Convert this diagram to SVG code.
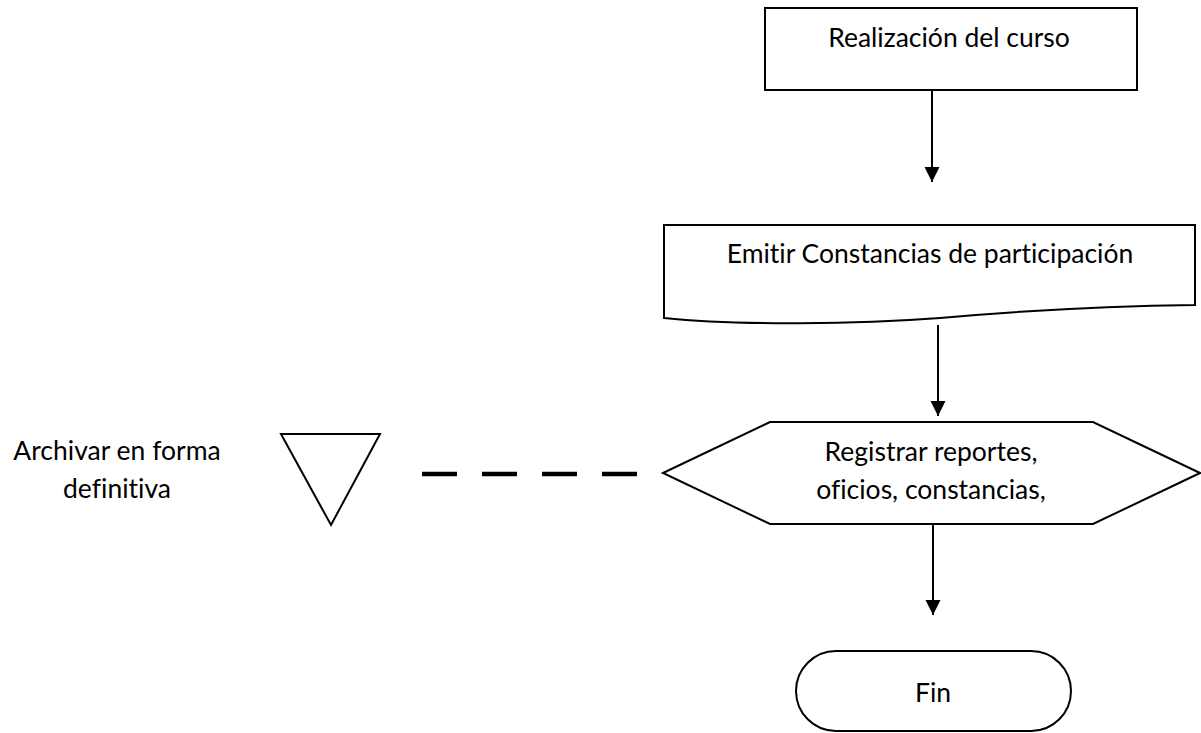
<svg xmlns="http://www.w3.org/2000/svg" width="1201" height="733" viewBox="0 0 1201 733">
  <style>
    .shape { fill: #ffffff; stroke: #000000; stroke-width: 2; stroke-linejoin: miter; }
    .label { font-family: Lato, "Liberation Sans", sans-serif; font-size: 26.5px; fill: #000000; text-anchor: middle; font-variant-ligatures: none; }
    .flow { stroke: #000000; stroke-width: 2; fill: none; marker-end: url(#arrow); }
    .dash { stroke: #000000; stroke-width: 4.5; fill: none; stroke-dasharray: 35 25; }
  </style>
  <defs>
    <marker id="arrow" markerUnits="userSpaceOnUse" markerWidth="16" markerHeight="16" viewBox="0 0 16 16" refX="15" refY="8" orient="auto">
      <path d="M0,0.5 L15,8 L0,15.5 Z" fill="#000000"/>
    </marker>
  </defs>
  <rect width="1201" height="733" fill="#ffffff"/>

  <!-- connectors -->
  <g id="connectors">
    <line class="flow" x1="932" y1="90" x2="932" y2="182"/>
    <line class="flow" x1="938" y1="325" x2="938" y2="416"/>
    <line class="flow" x1="933" y1="524" x2="933" y2="615"/>
    <line class="dash" x1="422" y1="474" x2="639" y2="474"/>
  </g>

  <!-- process: course delivery -->
  <g id="realizacion">
    <rect class="shape" x="765" y="8" width="372" height="82"/>
    <text class="label" x="949" y="47">Realización del curso</text>
  </g>

  <!-- document: participation certificates -->
  <g id="constancias">
    <path class="shape" d="M664,225 L1195,225 L1195,305 C1100,306 1020,311 940,318 C860,324 740,326 664,318 Z"/>
    <text class="label" x="930" y="263">Emitir Constancias de participación</text>
  </g>

  <!-- preparation: register reports -->
  <g id="registrar">
    <polygon class="shape" points="663,473 770,422 1093,422 1200,473 1093,524 770,524"/>
    <text class="label" x="931" y="461">Registrar reportes,</text>
    <text class="label" x="931" y="499">oficios, constancias,</text>
  </g>

  <!-- storage: final archive -->
  <g id="archivar">
    <polygon class="shape" points="281,434 380,434 331,525"/>
  </g>
  <g id="archivar-label">
    <text class="label" x="117" y="460">Archivar en forma</text>
    <text class="label" x="117" y="498">definitiva</text>
  </g>

  <!-- terminator: end -->
  <g id="fin">
    <rect class="shape" x="796" y="651" width="275" height="80" rx="40" ry="40"/>
    <text class="label" x="933" y="702">Fin</text>
  </g>
</svg>
